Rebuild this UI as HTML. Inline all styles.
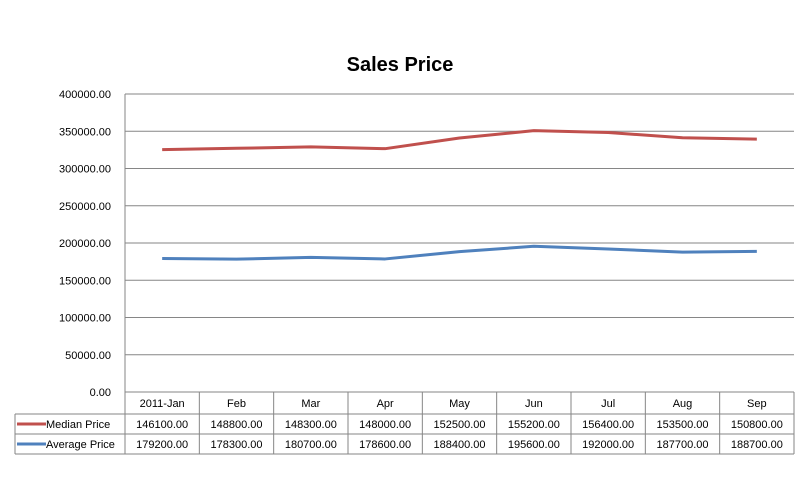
<!DOCTYPE html>
<html><head><meta charset="utf-8"><style>
body{margin:0;background:#fff;}
svg{display:block;font-family:"Liberation Sans",sans-serif;}
</style></head><body>
<svg id="c" width="800" height="500">
<text x="400" y="71" text-anchor="middle" font-size="20" font-weight="bold" fill="#000">Sales Price</text>
</svg>
<script>
const categories=["2011-Jan","Feb","Mar","Apr","May","Jun","Jul","Aug","Sep"];
const medianPrice=[146100,148800,148300,148000,152500,155200,156400,153500,150800];
const averagePrice=[179200,178300,180700,178600,188400,195600,192000,187700,188700];
const yTicks=[0,50000,100000,150000,200000,250000,300000,350000,400000];
const NS="http://www.w3.org/2000/svg";
const svg=document.getElementById("c");
const L=125,R=794,T=94,B=392,yMax=400000;
const colW=(R-L)/categories.length;
const y=v=>B-(v/yMax)*(B-T);
const xc=i=>L+colW*(i+0.5);
function mk(tag,attrs,txt){const e=document.createElementNS(NS,tag);for(const k in attrs)e.setAttribute(k,attrs[k]);if(txt!==undefined)e.textContent=txt;svg.appendChild(e);return e;}
yTicks.forEach(v=>{
  const g=mk("line",{x1:L,x2:R,y1:y(v),y2:y(v),stroke:"#868686","stroke-width":1});
  
  
  const t=mk("text",{x:L-14,y:y(v)+4,"text-anchor":"end","font-size":11,fill:"#000"},v.toFixed(2));
  
  
});
const ax=mk("line",{x1:L,x2:L,y1:T,y2:B,stroke:"#868686"});


// table
const rowH=[392,414,434,454];
[[L,R,392],[15,R,414],[15,R,434],[15,R,454]].forEach(r=>{const l=mk("line",{x1:r[0],x2:r[1],y1:r[2],y2:r[2],stroke:"#868686"});});
const lb=mk("line",{x1:15,x2:15,y1:414,y2:454,stroke:"#868686"});


for(let i=0;i<=categories.length;i++){const x=L+colW*i;const l=mk("line",{x1:x,x2:x,y1:392,y2:454,stroke:"#868686"});}
categories.forEach((c,i)=>{
  const t=mk("text",{x:xc(i),y:407,"text-anchor":"middle","font-size":11},c);
  
  
  const m=mk("text",{x:xc(i),y:428,"text-anchor":"middle","font-size":11},medianPrice[i].toFixed(2));
  
  
  const a=mk("text",{x:xc(i),y:448,"text-anchor":"middle","font-size":11},averagePrice[i].toFixed(2));
  
  
});
const series=[["Median Price","#c0504d",428,424,i=>medianPrice[i]+averagePrice[i]],["Average Price","#4f81bd",448,444,i=>averagePrice[i]]];
series.forEach(s=>{
  const k=mk("line",{x1:17,x2:46,y1:s[3],y2:s[3],stroke:s[1],"stroke-width":3});
  
  
  const t=mk("text",{x:46,y:s[2],"font-size":11},s[0]);
  
  
  const pts=categories.map((c,i)=>xc(i)+","+y(s[4](i))).join(" ");
  const p=mk("polyline",{points:pts,fill:"none",stroke:s[1],"stroke-width":3,"stroke-linejoin":"round"});
  
  
});
</script>
</body></html>
